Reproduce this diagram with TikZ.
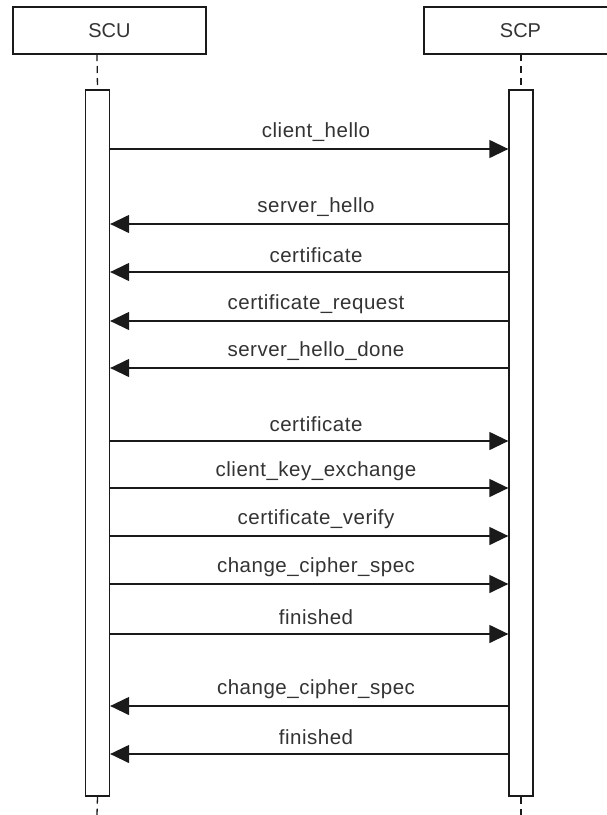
\documentclass[tikz,border=0pt]{standalone}
\usepackage{fontspec}
\setmainfont{Liberation Sans}
\newfontfamily\lblfont[LetterSpace=2.5]{Liberation Sans}
\usetikzlibrary{arrows.meta}
\definecolor{txt}{HTML}{333333}
\definecolor{ln}{HTML}{1A1A1A}
\tikzset{
  head/.style={draw=ln, line width=1.3pt, fill=white, minimum width=193pt, minimum height=47pt, inner sep=0pt, font=\fontsize{20}{24}\selectfont, text=txt},
  bar/.style={draw=ln, line width=1.3pt, fill=white, minimum width=24pt, inner sep=0pt},
  life/.style={draw=ln, line width=1.3pt, dash pattern=on 7pt off 5pt},
  msg/.style={draw=ln, line width=1.3pt, -{Triangle[length=19pt,width=18pt]}},
  lbl/.style={font=\lblfont\fontsize{20.5}{24}\selectfont, text=txt, inner sep=0pt}
}
\begin{document}
\begin{tikzpicture}[x=1pt,y=-1pt]
\clip (0,0) rectangle (607,815);
\fill[white] (0,0) rectangle (607,815);
% heads
\node[head] (scu) at (109.5,30.5) {SCU};
\node[head] (scp) at (520.5,30.5) {SCP};
% lifelines
\coordinate (scutop) at (97,54);
\coordinate (scptop) at (521,54);
\coordinate (scuend) at (97,815);
\coordinate (scpend) at (521,815);
\node[bar, minimum height=706pt] (scub) at (97.5,443) {};
\node[bar, minimum height=706pt] (scpb) at (521,443) {};
\draw[life] (scutop) -- (scub.north);
\draw[life] (scptop) -- (scpb.north);
\draw[life] (scub.south) -- (scuend);
\draw[life] (scpb.south) -- (scpend);
% messages
\foreach \y/\t in {149/client\_hello, 441/certificate, 488/client\_key\_exchange, 536/certificate\_verify, 584/change\_cipher\_spec, 634/finished}{
  \draw[msg] (scub.east |- 0,\y) -- (scpb.west |- 0,\y);
  \node[lbl] at (316,\y-17) {\t};
}
\foreach \y/\t in {224/server\_hello, 272/certificate, 321/certificate\_request, 368/server\_hello\_done, 706/change\_cipher\_spec, 754/finished}{
  \draw[msg] (scpb.west |- 0,\y) -- (scub.east |- 0,\y);
  \node[lbl] at (316,\y-17) {\t};
}
\end{tikzpicture}
\end{document}
